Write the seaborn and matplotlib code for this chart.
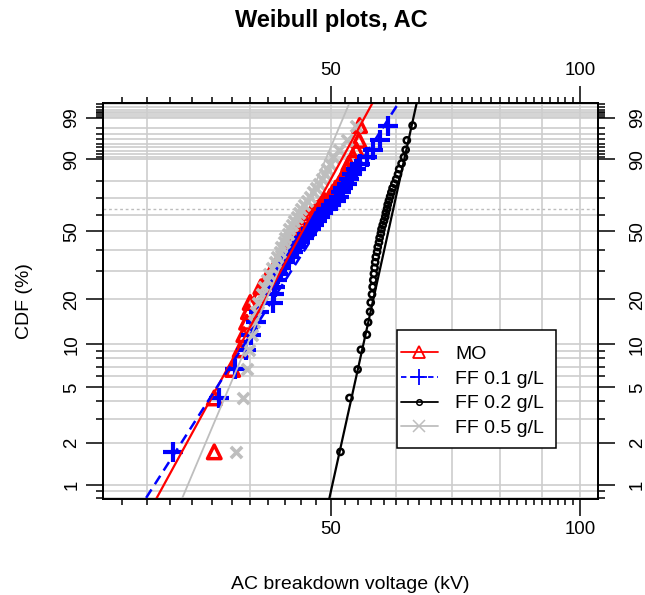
import numpy as np
import pandas as pd
import matplotlib
matplotlib.use("Agg")
import matplotlib.pyplot as plt
import seaborn as sns
from matplotlib.ticker import FixedLocator, NullFormatter, FixedFormatter
from matplotlib.lines import Line2D
from matplotlib.patches import Rectangle

# ---------------- data ----------------
series_names = ["MO", "FF 0.1 g/L", "FF 0.2 g/L", "FF 0.5 g/L"]

mo_kv = [36.2, 36.2, 38.1, 38.9, 39.3, 39.6, 39.8, 40.0, 41.0, 41.2,
         41.8, 42.3, 42.8, 43.2, 43.5, 43.9, 44.2, 44.6, 45.0, 45.3,
         45.5, 46.1, 46.6, 46.9, 47.4, 48.1, 48.6, 49.2, 49.9, 50.3,
         50.7, 51.2, 51.6, 52.0, 52.3, 52.6, 53.2, 53.7, 54.1, 54.2]
ff01_kv = [32.3, 36.7, 38.3, 39.5, 40.1, 40.6, 41.0, 42.6, 42.7, 42.9,
           43.1, 43.2, 43.6, 44.1, 44.6, 45.0, 45.5, 45.9, 46.4, 46.8,
           47.3, 47.7, 48.2, 48.6, 49.0, 49.4, 50.1, 50.8, 51.2, 51.5,
           51.8, 52.3, 52.6, 53.0, 53.6, 54.3, 55.3, 56.3, 57.4, 58.7]
ff02_kv = [51.4, 52.7, 53.9, 54.4, 55.3, 55.5, 55.8, 55.9, 56.1, 56.2,
           56.3, 56.4, 56.5, 56.6, 56.7, 56.9, 57.0, 57.2, 57.3, 57.5,
           57.6, 57.8, 58.0, 58.2, 58.3, 58.5, 58.6, 58.8, 59.0, 59.2,
           59.4, 59.7, 60.0, 60.3, 60.5, 60.9, 61.3, 61.6, 61.8, 62.8]
ff05_kv = [38.5, 39.2, 39.6, 39.9, 40.2, 40.4, 40.6, 40.9, 41.3, 41.6,
           41.9, 42.2, 42.5, 42.8, 43.1, 43.4, 43.6, 43.9, 44.1, 44.4,
           44.6, 44.9, 45.2, 45.5, 45.8, 46.1, 46.5, 46.8, 47.2, 47.6,
           48.0, 48.4, 48.8, 49.2, 49.5, 49.9, 50.4, 51.2, 52.4, 53.6]

# fitted Weibull lines (shape beta, scale eta in kV)
weibull_shape = [11.0, 9.4, 27.2, 14.2]
weibull_scale = [47.8, 50.0, 59.5, 46.5]

x_tick_values = [50, 100]
x_minor_values = [v for v in range(28, 101, 2) if v not in (50, 100)]
x_grid_values = [30, 40, 50, 60, 70, 80, 90, 100]
y_tick_values = [1, 2, 5, 10, 20, 50, 90, 99]
y_minor_values = [0.8, 0.9, 3, 4, 6, 7, 8, 9, 30, 40, 60, 70, 80,
                  91, 92, 93, 94, 95, 96, 97, 98,
                  99.1, 99.2, 99.3, 99.4, 99.5, 99.6, 99.7, 99.8, 99.9]

# ---------------- Weibull probability scale ----------------
def weib_fwd(p):
    p = np.clip(np.asarray(p, dtype=float), 1e-6, 100 - 1e-9)
    return np.log(-np.log(1 - p / 100.0))

def weib_inv(w):
    w = np.asarray(w, dtype=float)
    return 100.0 * (1 - np.exp(-np.exp(w)))

# ---------------- figure ----------------
sns.set_style("white")
plt.rcParams["font.family"] = ["Liberation Sans", "DejaVu Sans"]
for key in ["text.color", "axes.labelcolor", "xtick.color", "ytick.color",
            "axes.edgecolor"]:
    plt.rcParams[key] = "black"

W, H = 645, 595
XLIM = (26.6, 105)
YLIM = (0.793, 99.72)
fig = plt.figure(figsize=(W / 100, H / 100), dpi=100)
L, R, T, B = 103.3, 597.7, 103.3, 499.0
ax = fig.add_axes([L / W, 1 - B / H, (R - L) / W, (B - T) / H])
ax.set_xscale("log")
ax.set_yscale("function", functions=(weib_fwd, weib_inv))
ax.set_xlim(*XLIM)
ax.set_ylim(*YLIM)

grid_c = "#cdcdcd"
for v in x_grid_values:
    ax.axvline(v, color=grid_c, lw=1.2, zorder=0)
for p in y_tick_values + y_minor_values:
    ax.axhline(p, color=grid_c, lw=1.2, zorder=0)
ax.axhline(100 * (1 - np.exp(-1)), color="#bdbdbd", lw=1.0,
           ls=(0, (2, 2)), zorder=0)

styles = {
    "MO":         dict(color="#ff0000", marker="^", s=95,  mlw=2.5, open=True,  ls="-",  lw=1.6),
    "FF 0.1 g/L": dict(color="#0000ff", marker="+", s=210, mlw=3.0, open=False, ls=(0, (4, 2.5)), lw=1.8),
    "FF 0.2 g/L": dict(color="#000000", marker="o", s=20,  mlw=1.8, open=True,  ls="-",  lw=1.6),
    "FF 0.5 g/L": dict(color="#bebebe", marker="x", s=65,  mlw=2.6, open=False, ls="-",  lw=1.3),
}

all_kv = [mo_kv, ff01_kv, ff02_kv, ff05_kv]
for name, kv, beta, eta in zip(series_names, all_kv, weibull_shape, weibull_scale):
    st = styles[name]
    n = len(kv)
    ranks = np.arange(1, n + 1)
    cdf_pct = (ranks - 0.3) / (n + 0.4) * 100.0   # Bernard median ranks
    df = pd.DataFrame({"kv": kv, "cdf": cdf_pct})
    kws = dict(marker=st["marker"], s=st["s"], linewidth=st["mlw"], color=st["color"])
    if st["open"]:
        kws.update(facecolor="none", edgecolor=st["color"])
    sns.scatterplot(data=df, x="kv", y="cdf", ax=ax, legend=False, zorder=3, **kws)

    w = np.linspace(-5.5, 2.3, 60)
    fit = pd.DataFrame({"kv": eta * np.exp(w / beta), "cdf": weib_inv(w)})
    sns.lineplot(data=fit, x="kv", y="cdf", ax=ax, color=st["color"],
                 lw=st["lw"], linestyle=st["ls"], estimator=None, sort=False,
                 legend=False, zorder=4)

ax.set_xlim(*XLIM)
ax.set_ylim(*YLIM)

def set_x_ticks(a):
    a.xaxis.set_major_locator(FixedLocator(x_tick_values))
    a.xaxis.set_major_formatter(FixedFormatter([str(v) for v in x_tick_values]))
    a.xaxis.set_minor_locator(FixedLocator(x_minor_values))
    a.xaxis.set_minor_formatter(NullFormatter())

def set_y_ticks(a):
    a.yaxis.set_major_locator(FixedLocator(y_tick_values))
    a.yaxis.set_major_formatter(FixedFormatter([str(v) for v in y_tick_values]))
    a.yaxis.set_minor_locator(FixedLocator(y_minor_values))
    a.yaxis.set_minor_formatter(NullFormatter())

set_x_ticks(ax)
set_y_ticks(ax)
ax.tick_params(axis="x", which="major", length=12.5, width=1.1, pad=3,
               top=False, bottom=True, labeltop=False, labelbottom=True,
               labelsize=13.4, direction="out")
ax.tick_params(axis="x", which="minor", length=4.0, width=1.1,
               top=False, bottom=True, direction="out")
ax.tick_params(axis="y", which="major", length=12.5, width=1.1, pad=4,
               left=True, right=False, labelleft=True, labelright=False,
               labelsize=13.4, direction="out")
ax.tick_params(axis="y", which="minor", length=4.8, width=1.1,
               left=True, right=False, direction="out")
for lab in ax.get_yticklabels(which="major"):
    lab.set_rotation(90)
    lab.set_va("center")

# top axis (twin) with its own label pad
axt = ax.twiny()
axt.set_xscale("log")
axt.set_xlim(*XLIM)
set_x_ticks(axt)
axt.tick_params(axis="x", which="major", length=12.5, width=1.1, pad=5.2,
                top=True, bottom=False, labeltop=True, labelbottom=False,
                labelsize=13.4, direction="out")
axt.tick_params(axis="x", which="minor", length=4.0, width=1.1,
                top=True, bottom=False, direction="out")

# right axis (twin) with its own label pad
axr = ax.twinx()
axr.set_yscale("function", functions=(weib_fwd, weib_inv))
axr.set_ylim(*YLIM)
set_y_ticks(axr)
axr.tick_params(axis="y", which="major", length=12.5, width=1.1, pad=10,
                left=False, right=True, labelleft=False, labelright=True,
                labelsize=13.4, direction="out")
axr.tick_params(axis="y", which="minor", length=4.8, width=1.1,
                left=False, right=True, direction="out")
for lab in axr.get_yticklabels(which="major"):
    lab.set_rotation(90)
    lab.set_va("center")

for a in (ax, axt, axr):
    for sp in a.spines.values():
        sp.set_color("black")
        sp.set_linewidth(1.1)
        sp.set_visible(True)
    a.grid(False)

ax.set_xlabel("AC breakdown voltage (kV)", fontsize=14)
ax.set_ylabel("CDF (%)", fontsize=14)
ax.xaxis.set_label_coords(0.5, -0.195)
ax.yaxis.set_label_coords(-0.142, 0.5)

fig.text(331 / W, 1 - 21 / H, "Weibull plots, AC", ha="center", va="center",
         fontsize=17, fontweight="bold", color="black")

# legend: frame drawn as a rectangle, entries as a frameless legend
frame = Rectangle((396.7 / W, 1 - 448 / H), (555.7 - 396.7) / W, (448 - 330) / H,
                  transform=fig.transFigure, facecolor="white", edgecolor="black",
                  lw=1.1, zorder=9, clip_on=False)
axr.add_patch(frame)
handles = [
    Line2D([], [], color="#ff0000", lw=1.3, ls="-", marker="^", markersize=9,
           markerfacecolor="none", markeredgewidth=1.3),
    Line2D([], [], color="#0000ff", lw=1.3, ls=(0, (3, 2)), marker="+", markersize=11,
           markeredgewidth=1.3),
    Line2D([], [], color="#000000", lw=1.3, ls="-", marker="o", markersize=4,
           markerfacecolor="none", markeredgewidth=1.1),
    Line2D([], [], color="#bebebe", lw=1.3, ls="-", marker="x", markersize=8,
           markeredgewidth=1.1),
]
leg = axr.legend(handles, series_names, loc="upper left",
                 bbox_to_anchor=(401 / W, 1 - 345.5 / H), bbox_transform=fig.transFigure,
                 fontsize=14, frameon=False, handlelength=1.9, handletextpad=0.9,
                 labelspacing=0.36, borderpad=0, borderaxespad=0)
leg.set_zorder(10)

fig.savefig("out.png", dpi=100, facecolor="white")
